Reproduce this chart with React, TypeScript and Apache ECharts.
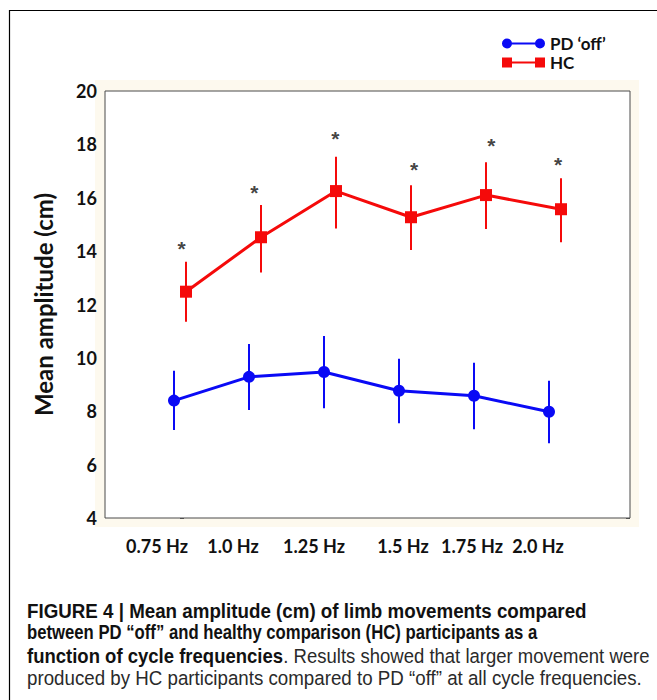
import React, { useEffect, useRef } from "react";
import * as echarts from "echarts";

// ---- data ----
const categories = ["0.75 Hz", "1.0 Hz", "1.25 Hz", "1.5 Hz", "1.75 Hz", "2.0 Hz"];
const pdMean = [8.4, 9.29, 9.47, 8.77, 8.58, 7.98];
const pdLow = [7.3, 8.05, 8.11, 7.55, 7.33, 6.8];
const pdHigh = [9.52, 10.52, 10.82, 9.97, 9.82, 9.14];
const hcMean = [12.48, 14.52, 16.25, 15.27, 16.1, 15.57];
const hcLow = [11.35, 13.2, 14.85, 14.04, 14.83, 14.33];
const hcHigh = [13.6, 15.73, 17.54, 16.47, 17.33, 16.73];
const starX = [0.02, 0.99, 2.07, 3.12, 4.15, 5.04];
const starY = [14.29, 16.39, 18.39, 17.26, 18.16, 17.45];
// where the category labels and the stray tick marks sit on the x scale
const xLabelAt = [-0.307, 0.707, 1.787, 2.973, 3.893, 4.773];
const xTickAt = [-0.067, 0.88, 1.813, 2.76, 3.693, 4.64];
const seriesNames = ["PD \u2018off\u2019", "HC"];
const captionLines = [
  "FIGURE 4 | Mean amplitude (cm) of limb movements compared",
  "between PD \u201coff\u201d and healthy comparison (HC) participants as a",
  "function of cycle frequencies",
  ". Results showed that larger movement were",
  "produced by HC participants compared to PD \u201coff\u201d at all cycle frequencies.",
];

const DODGE = 0.08;
const BLUE = "#0a0af5";
const RED = "#f50a0a";
const TICK_FONT = "Lato";

function measure(text: string, font: string) {
  const c = document.createElement("canvas").getContext("2d")!;
  c.font = font;
  return c.measureText(text).width;
}

export default function App() {
  const ref = useRef<HTMLDivElement>(null);
  useEffect(() => {
    document.body.style.margin = "0";
    const chart = echarts.init(ref.current!, null, { renderer: "svg" });

    const capFont = "Liberation Sans";
    const capSize = 19.5;
    const boldF = `bold ${capSize}px "${capFont}"`;
    const regF = `${capSize}px "${capFont}"`;
    const s1 = 560 / measure(captionLines[0], boldF);
    const s2 = 511 / measure(captionLines[1], boldF);
    const s3 = 623 / (measure(captionLines[2], boldF) + measure(captionLines[3], regF));
    const s4 = 615 / measure(captionLines[4], regF);

    const capText = (text: string, y: number, sx: number, bold: boolean) => ({
      type: "text",
      x: 27,
      y,
      scaleX: sx,
      style: {
        text,
        fontFamily: capFont,
        fontSize: capSize,
        fontWeight: bold ? "bold" : "normal",
        fill: bold ? "#111" : "#2a2a2a",
        textVerticalAlign: "middle",
      },
    });

    const pdIcon =
      "path://M0,5A5,5,0,1,1,10,5A5,5,0,1,1,0,5Z M9,4L34,4L34,6L9,6Z M33,5A5,5,0,1,1,43,5A5,5,0,1,1,33,5Z";
    const hcIcon = "path://M0,0L10,0L10,10L0,10Z M9,4L34,4L34,6L9,6Z M33,0L43,0L43,10L33,10Z";

    const errRender = (color: string) => (params: any, api: any) => {
      const x = api.value(0);
      const p1 = api.coord([x, api.value(1)]);
      const p2 = api.coord([x, api.value(2)]);
      return {
        type: "line",
        shape: { x1: p1[0], y1: p1[1], x2: p2[0], y2: p2[1] },
        style: { stroke: color, lineWidth: 2 },
      };
    };

    chart.setOption({
      animation: false,
      backgroundColor: "#fff",
      grid: {
        left: 105,
        top: 91,
        width: 525,
        height: 427,
        show: true,
        backgroundColor: "#fff",
        borderColor: "#4a4a4a",
        borderWidth: 1,
        z: 1,
      },
      legend: {
        data: [
          { name: seriesNames[0], icon: pdIcon },
          { name: seriesNames[1], icon: hcIcon },
        ],
        orient: "vertical",
        left: 502,
        top: 35,
        padding: 0,
        itemWidth: 43,
        itemHeight: 10,
        itemGap: 2,
        selectedMode: false,
        textStyle: { fontFamily: TICK_FONT, fontWeight: "bold", fontSize: 17, color: "#111" },
      },
      xAxis: {
        type: "value",
        min: -1,
        max: 6,
        axisLine: { show: false },
        splitLine: { show: false },
        axisTick: {
          show: true,
          inside: true,
          length: 4,
          customValues: xTickAt,
          lineStyle: { color: "#555" },
        },
        axisLabel: {
          customValues: xLabelAt,
          formatter: (v: number) => {
            const i = xLabelAt.findIndex((p) => Math.abs(p - v) < 1e-6);
            return i >= 0 ? categories[i] : "";
          },
          margin: 19,
          fontFamily: TICK_FONT,
          fontWeight: "bold",
          fontSize: 18,
          color: "#111",
        },
      },
      yAxis: [
        {
          type: "value",
          min: 4,
          max: 20,
          interval: 2,
          position: "left",
          name: "Mean amplitude (cm)",
          nameLocation: "middle",
          nameGap: 50,
          nameTextStyle: { fontFamily: TICK_FONT, fontWeight: "bold", fontSize: 24, color: "#111" },
          axisLine: { show: false },
          splitLine: { show: false },
          axisTick: { show: true, inside: true, length: 4, lineStyle: { color: "#555" } },
          axisLabel: { margin: 8, fontFamily: TICK_FONT, fontWeight: "bold", fontSize: 18, color: "#111" },
        },
        {
          type: "value",
          min: 4,
          max: 20,
          interval: 2,
          position: "right",
          axisLine: { show: false },
          splitLine: { show: false },
          axisTick: { show: true, inside: true, length: 4, lineStyle: { color: "#555" } },
          axisLabel: { show: false },
        },
      ],
      series: [
        {
          type: "custom",
          name: "pdErr",
          renderItem: errRender(BLUE),
          data: pdLow.map((l, i) => [i - DODGE, l, pdHigh[i]]),
          encode: { x: 0, y: [1, 2] },
          z: 3,
          silent: true,
        },
        {
          type: "custom",
          name: "hcErr",
          renderItem: errRender(RED),
          data: hcLow.map((l, i) => [i + DODGE, l, hcHigh[i]]),
          encode: { x: 0, y: [1, 2] },
          z: 3,
          silent: true,
        },
        {
          type: "line",
          name: seriesNames[0],
          data: pdMean.map((v, i) => [i - DODGE, v]),
          symbol: "circle",
          symbolSize: 12,
          color: BLUE,
          lineStyle: { color: BLUE, width: 3 },
          itemStyle: { color: BLUE },
          z: 4,
        },
        {
          type: "line",
          name: seriesNames[1],
          data: hcMean.map((v, i) => [i + DODGE, v]),
          symbol: "rect",
          symbolSize: 12,
          color: RED,
          lineStyle: { color: RED, width: 3 },
          itemStyle: { color: RED },
          z: 4,
        },
        {
          type: "scatter",
          name: "sig",
          data: starX.map((x, i) => [x, starY[i]]),
          symbolSize: 1,
          itemStyle: { color: "rgba(0,0,0,0)" },
          label: {
            show: true,
            position: "inside",
            formatter: "*",
            fontFamily: "Liberation Sans",
            fontWeight: "bold",
            fontSize: 21,
            color: "#111",
            offset: [0, 5],
          },
          silent: true,
          z: 5,
        },
      ],
      graphic: [
        {
          type: "rect",
          z: -1,
          shape: { x: 95, y: 80, width: 544, height: 447 },
          style: { fill: "#fdf9ee" },
        },
        {
          type: "rect",
          shape: { x: 9.5, y: 10.5, width: 700, height: 720 },
          style: { fill: "none", stroke: "#000", lineWidth: 1.2 },
        },
        capText(captionLines[0], 611, s1, true),
        capText(captionLines[1], 633, s2, true),
        {
          type: "text",
          x: 27,
          y: 656,
          scaleX: s3,
          style: {
            text: `{b|${captionLines[2]}}{r|${captionLines[3]}}`,
            textVerticalAlign: "middle",
            rich: {
              b: { fontFamily: capFont, fontSize: capSize, fontWeight: "bold", fill: "#111" },
              r: { fontFamily: capFont, fontSize: capSize, fontWeight: "normal", fill: "#2a2a2a" },
            },
          },
        },
        capText(captionLines[4], 678, s4, false),
      ],
    });
    return () => chart.dispose();
  }, []);
  return <div ref={ref} style={{ width: 657, height: 700 }} />;
}
